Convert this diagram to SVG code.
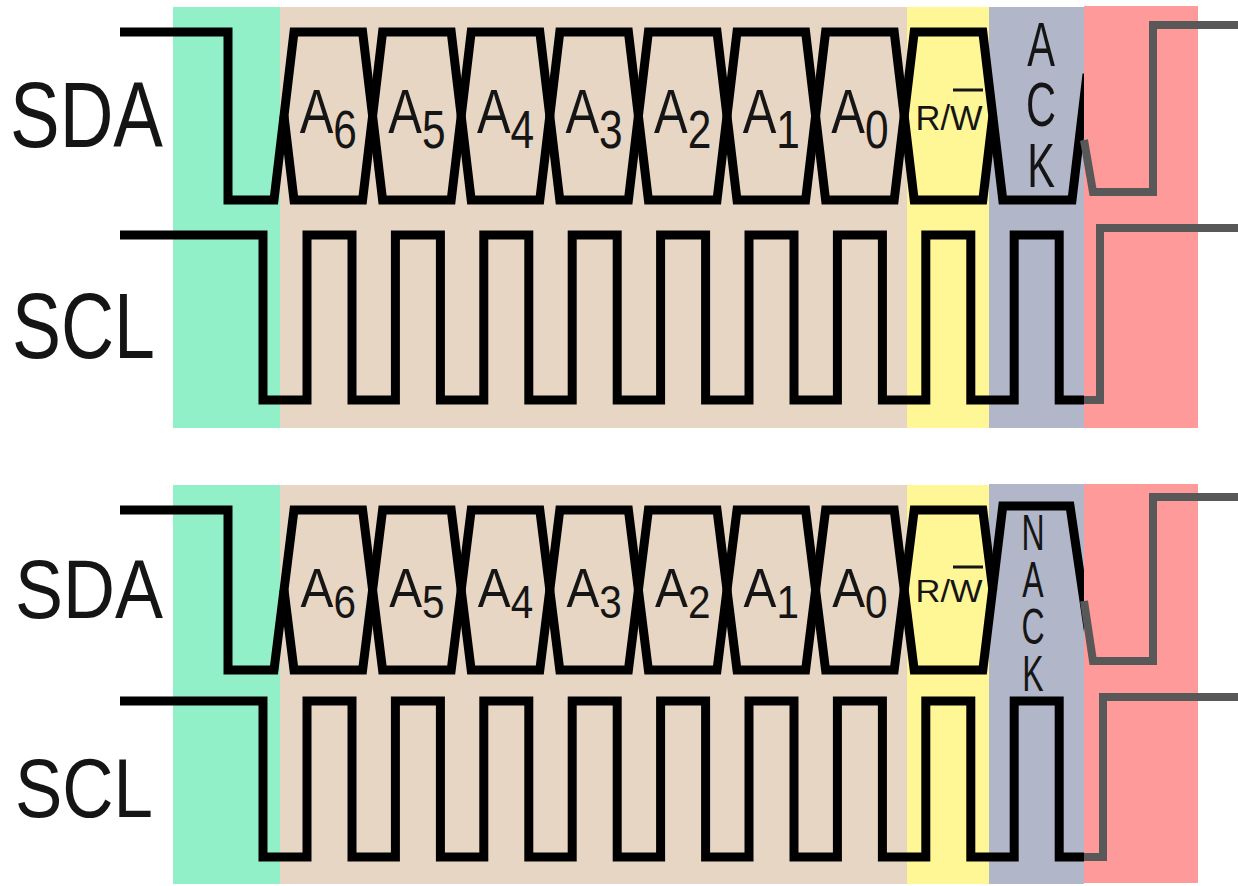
<svg xmlns="http://www.w3.org/2000/svg" width="1238" height="886" viewBox="0 0 1238 886">
<style>
.bk{fill:none;stroke:#000;stroke-width:9;stroke-linejoin:miter;stroke-miterlimit:10}
.gy{fill:none;stroke:#585858;stroke-width:8;stroke-linejoin:miter}
.t{font-family:"Liberation Sans",Arial,sans-serif;fill:#151515}
.ov{stroke:#151515;stroke-width:3}
.vt{writing-mode:vertical-rl;text-orientation:upright}
</style>
<rect width="1238" height="886" fill="#fff"/>
<g id="backgrounds">
<rect x="173" y="7" width="107" height="421" fill="#91F0C8"/>
<rect x="280" y="7" width="627" height="421" fill="#E8D6C4"/>
<rect x="907" y="7" width="82" height="421" fill="#FFF696"/>
<rect x="989" y="7" width="95" height="421" fill="#B1B6C8"/>
<rect x="173" y="485" width="107" height="399" fill="#91F0C8"/>
<rect x="280" y="485" width="627" height="399" fill="#E8D6C4"/>
<rect x="907" y="485" width="82" height="399" fill="#FFF696"/>
<rect x="989" y="484" width="95" height="400" fill="#B1B6C8"/>
</g>
<g id="connectors">
<path class="bk" d="M120,32 H228 V200 H274 L294,32 H362.6 L382.6,200 H451.2 L471.2,32 H539.8 L559.8,200 H628.4 L648.4,32 H717 L737,200 H805.6 L825.6,32 H894.2 L914.2,200 H982.8 L992.8,116"/>
<path class="bk" d="M284,116 L294,200 H362.6 L382.6,32 H451.2 L471.2,200 H539.8 L559.8,32 H628.4 L648.4,200 H717 L737,32 H805.6 L825.6,200 H894.2 L914.2,32 H982.8 L1002.8,200 H1072 L1087,74"/>
<path class="bk" d="M120,235 H263 V400 H307 V235 H352 V400 H395.4 V235 H440.4 V400 H483.8 V235 H528.8 V400 H572.2 V235 H617.2 V400 H660.6 V235 H705.6 V400 H749 V235 H794 V400 H837.4 V235 H882.4 V400 H925.8 V235 H970.8 V400 H1014.2 V235 H1059.2 V400 H1092"/>
<path class="bk" d="M120,510 H228 V670 H274 L294,510 H362.6 L382.6,670 H451.2 L471.2,510 H539.8 L559.8,670 H628.4 L648.4,510 H717 L737,670 H805.6 L825.6,510 H894.2 L914.2,670 H982.8 L1002.8,506 H1070 L1093,662"/>
<path class="bk" d="M284,590 L294,670 H362.6 L382.6,510 H451.2 L471.2,670 H539.8 L559.8,510 H628.4 L648.4,670 H717 L737,510 H805.6 L825.6,670 H894.2 L914.2,510 H982.8 L992.8,590"/>
<path class="bk" d="M120,701 H263 V857 H307 V701 H352 V857 H395.4 V701 H440.4 V857 H483.8 V701 H528.8 V857 H572.2 V701 H617.2 V857 H660.6 V701 H705.6 V857 H749 V701 H794 V857 H837.4 V701 H882.4 V857 H925.8 V701 H970.8 V857 H1014.2 V701 H1059.2 V857 H1092"/>
</g>
<g id="stop">
<rect x="1084" y="6" width="114" height="422" fill="#FF9A9A"/>
<rect x="1084" y="484" width="114" height="399" fill="#FF9A9A"/>
<path class="gy" d="M1084,140 L1093,192 H1153 V25 H1238"/>
<path class="gy" d="M1084,400 H1100 V228 H1238"/>
<path class="gy" d="M1084,601 L1093,661 H1153 V497 H1238"/>
<path class="gy" d="M1084,857 H1103 V697 H1238"/>
</g>
<g id="signal-labels" class="t">
<text x="10" y="147" font-size="92" textLength="153" lengthAdjust="spacingAndGlyphs">SDA</text>
<text x="12" y="358" font-size="92" textLength="143" lengthAdjust="spacingAndGlyphs">SCL</text>
<text x="15" y="618" font-size="84" textLength="148" lengthAdjust="spacingAndGlyphs">SDA</text>
<text x="15" y="817" font-size="84" textLength="138" lengthAdjust="spacingAndGlyphs">SCL</text>
</g>
<g id="top-bits" class="t" text-anchor="middle">
<text transform="translate(328.3,133) scale(0.8,1)" font-size="63">A<tspan font-size="53" dy="15">6</tspan></text>
<text transform="translate(416.9,133) scale(0.8,1)" font-size="63">A<tspan font-size="53" dy="15">5</tspan></text>
<text transform="translate(505.5,133) scale(0.8,1)" font-size="63">A<tspan font-size="53" dy="15">4</tspan></text>
<text transform="translate(594.1,133) scale(0.8,1)" font-size="63">A<tspan font-size="53" dy="15">3</tspan></text>
<text transform="translate(682.7,133) scale(0.8,1)" font-size="63">A<tspan font-size="53" dy="15">2</tspan></text>
<text transform="translate(771.3,133) scale(0.8,1)" font-size="63">A<tspan font-size="53" dy="15">1</tspan></text>
<text transform="translate(859.9,133) scale(0.8,1)" font-size="63">A<tspan font-size="53" dy="15">0</tspan></text>
<text x="949" y="130" font-size="35" textLength="67" lengthAdjust="spacingAndGlyphs">R/W</text>
<line class="ov" x1="953" y1="90" x2="983" y2="90"/>
</g>
<g id="ack" class="t">
<text class="vt" transform="translate(1041,0) scale(0.66,1)" x="0" y="9" font-size="63" letter-spacing="-9">ACK</text>
</g>
<g id="bottom-bits" class="t" text-anchor="middle">
<text transform="translate(328.3,607) scale(0.88,1)" font-size="56">A<tspan font-size="46" dy="11">6</tspan></text>
<text transform="translate(416.9,607) scale(0.88,1)" font-size="56">A<tspan font-size="46" dy="11">5</tspan></text>
<text transform="translate(505.5,607) scale(0.88,1)" font-size="56">A<tspan font-size="46" dy="11">4</tspan></text>
<text transform="translate(594.1,607) scale(0.88,1)" font-size="56">A<tspan font-size="46" dy="11">3</tspan></text>
<text transform="translate(682.7,607) scale(0.88,1)" font-size="56">A<tspan font-size="46" dy="11">2</tspan></text>
<text transform="translate(771.3,607) scale(0.88,1)" font-size="56">A<tspan font-size="46" dy="11">1</tspan></text>
<text transform="translate(859.9,607) scale(0.88,1)" font-size="56">A<tspan font-size="46" dy="11">0</tspan></text>
<text x="949" y="602" font-size="32" textLength="67" lengthAdjust="spacingAndGlyphs">R/W</text>
<line class="ov" x1="953" y1="567" x2="983" y2="567"/>
</g>
<g id="nack" class="t">
<text class="vt" transform="translate(1033,0) scale(0.64,1)" x="0" y="505" font-size="50" letter-spacing="-9">NACK</text>
</g>
</svg>
